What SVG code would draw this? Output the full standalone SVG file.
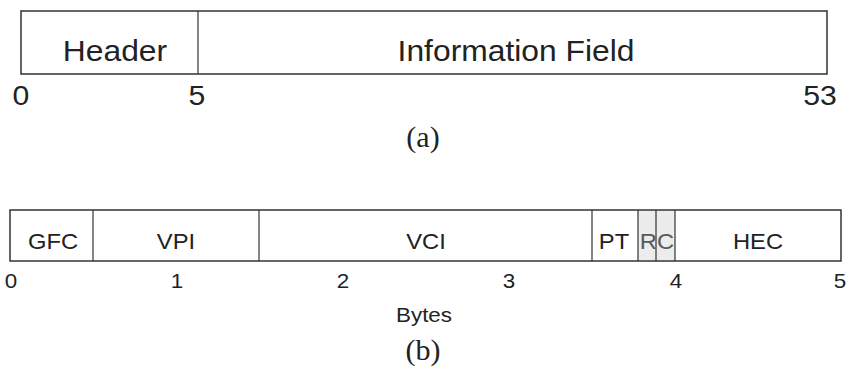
<svg xmlns="http://www.w3.org/2000/svg" width="849" height="372" viewBox="0 0 849 372">
  <style>
    .box { fill: #ffffff; stroke: #333333; stroke-width: 1.5; }
    .div { stroke: #333333; stroke-width: 1.2; }
    .big { font-family: "Liberation Sans", Arial, sans-serif; font-size: 27px; fill: #222222; text-anchor: middle; }
    .title { font-family: "Liberation Sans", Arial, sans-serif; font-size: 30px; fill: #222222; text-anchor: middle; }
    .field { font-family: "Liberation Sans", Arial, sans-serif; font-size: 22px; fill: #222222; text-anchor: middle; }
    .small { font-family: "Liberation Sans", Arial, sans-serif; font-size: 20px; fill: #222222; text-anchor: middle; }
    .cap { font-family: "Liberation Serif", "Times New Roman", serif; font-size: 30px; fill: #222222; text-anchor: middle; }
    .shade { fill: #ececec; }
  </style>
  <rect width="849" height="372" fill="#ffffff"/>

  <!-- (a) cell: header + information field -->
  <g id="cell-a">
    <rect class="box" x="21" y="11" width="806" height="63"/>
    <line class="div" x1="198" y1="11" x2="198" y2="74"/>
    <text class="title" transform="translate(115,61) scale(1.06,1)">Header</text>
    <text class="title" transform="translate(516,61) scale(1.06,1)">Information Field</text>
    <text class="big" transform="translate(21,105) scale(1.12,1)">0</text>
    <text class="big" transform="translate(197,105) scale(1.12,1)">5</text>
    <text class="big" transform="translate(820,105) scale(1.12,1)">53</text>
    <text class="cap" x="423" y="147">(a)</text>
  </g>

  <!-- (b) header fields, in bytes -->
  <g id="cell-b">
    <rect class="box" x="10" y="210" width="831" height="51"/>
    <rect class="shade" x="638" y="211" width="37" height="49"/>
    <line class="div" x1="93" y1="210" x2="93" y2="261"/>
    <line class="div" x1="259" y1="210" x2="259" y2="261"/>
    <line class="div" x1="592" y1="210" x2="592" y2="261"/>
    <line class="div" x1="638" y1="210" x2="638" y2="261"/>
    <line class="div" x1="656" y1="210" x2="656" y2="261"/>
    <line class="div" x1="675" y1="210" x2="675" y2="261"/>
    <text class="field" transform="translate(53,249) scale(1.08,1)">GFC</text>
    <text class="field" transform="translate(176,249) scale(1.08,1)">VPI</text>
    <text class="field" transform="translate(426,249) scale(1.08,1)">VCI</text>
    <text class="field" transform="translate(614,249) scale(1.08,1)">PT</text>
    <text class="field" transform="translate(657,249) scale(1.08,1)" style="fill:#5a5a5a">RC</text>
    <text class="field" transform="translate(758,249) scale(1.08,1)">HEC</text>
    <text class="small" transform="translate(11,288) scale(1.12,1)">0</text>
    <text class="small" transform="translate(177,288) scale(1.12,1)">1</text>
    <text class="small" transform="translate(343,288) scale(1.12,1)">2</text>
    <text class="small" transform="translate(509,288) scale(1.12,1)">3</text>
    <text class="small" transform="translate(676,288) scale(1.12,1)">4</text>
    <text class="small" transform="translate(840,288) scale(1.12,1)">5</text>
    <text class="small" transform="translate(424,322) scale(1.12,1)">Bytes</text>
    <text class="cap" x="423" y="360">(b)</text>
  </g>
</svg>
